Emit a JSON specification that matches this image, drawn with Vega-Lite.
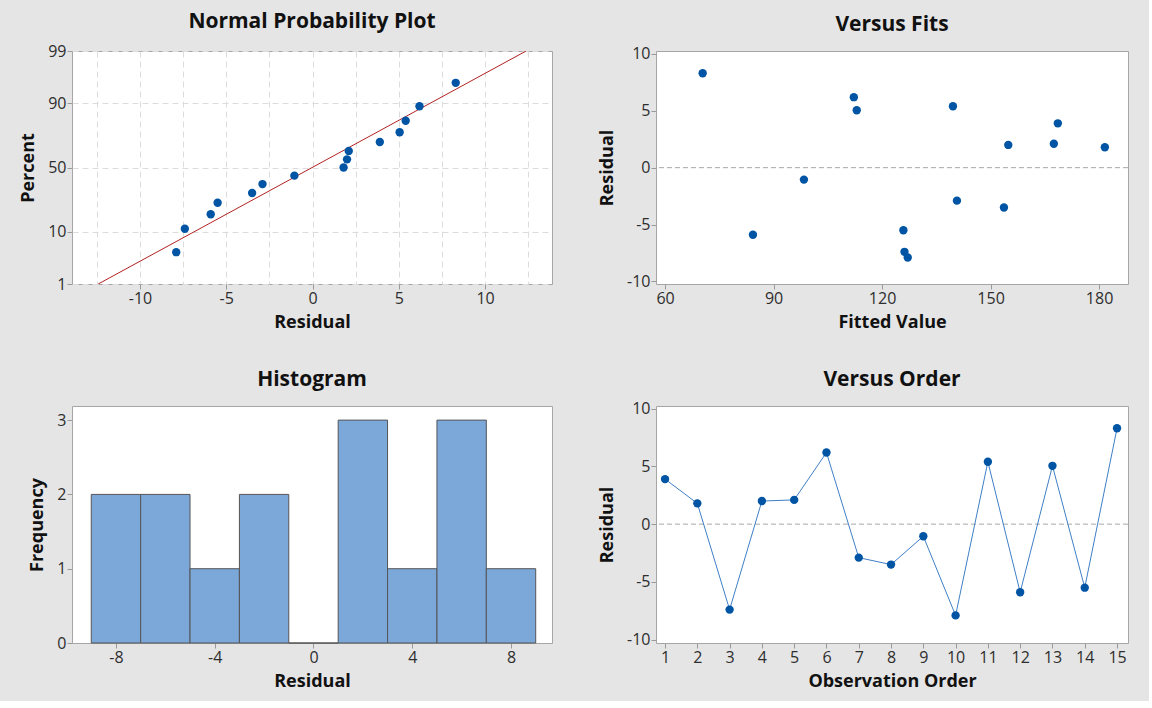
{
  "$schema": "https://vega.github.io/schema/vega-lite/v6.json",
  "background": "#e5e5e5",
  "padding": {"left": 19, "top": 10, "right": 20, "bottom": 10},
  "config": {
    "font": "Open Sans",
    "view": {"stroke": "#a6a6a6", "fill": "white", "strokeWidth": 1},
    "axis": {
      "labelFont": "Open Sans", "labelFontSize": 16, "labelColor": "#2e2e2e",
      "titleFont": "Open Sans", "titleFontSize": 18, "titleFontWeight": "bold", "titleColor": "#111111",
      "domain": false, "tickColor": "#9a9a9a", "tickSize": 5, "labelPadding": 1,
      "grid": false, "labelFlush": false, "labelOverlap": false
    },
    "axisX": {"titlePadding": 7, "labelPadding": 1},
    "axisY": {"titlePadding": 10},
    "title": {"font": "Open Sans", "fontSize": 21, "fontWeight": "bold", "color": "#111111", "anchor": "middle", "baseline": "alphabetic"}
  },
  "datasets": {
    "res": [
      {"obs": 1, "resid": 3.9, "fit": 168.6, "nscore": 0.509},
      {"obs": 2, "resid": 1.8, "fit": 181.6, "nscore": 0.0},
      {"obs": 3, "resid": -7.4, "fit": 126.2, "nscore": -1.224},
      {"obs": 4, "resid": 2.0, "fit": 154.9, "nscore": 0.163},
      {"obs": 5, "resid": 2.1, "fit": 167.5, "nscore": 0.331},
      {"obs": 6, "resid": 6.2, "fit": 112.2, "nscore": 1.224},
      {"obs": 7, "resid": -2.9, "fit": 140.7, "nscore": -0.331},
      {"obs": 8, "resid": -3.5, "fit": 153.7, "nscore": -0.509},
      {"obs": 9, "resid": -1.05, "fit": 98.4, "nscore": -0.163},
      {"obs": 10, "resid": -7.9, "fit": 127.1, "nscore": -1.691},
      {"obs": 11, "resid": 5.4, "fit": 139.6, "nscore": 0.933},
      {"obs": 12, "resid": -5.9, "fit": 84.3, "nscore": -0.933},
      {"obs": 13, "resid": 5.05, "fit": 113.0, "nscore": 0.705},
      {"obs": 14, "resid": -5.5, "fit": 125.9, "nscore": -0.705},
      {"obs": 15, "resid": 8.3, "fit": 70.4, "nscore": 1.691}
    ],
    "fitline": [
      {"resid": -12.42, "nscore": -2.3263},
      {"resid": 12.38, "nscore": 2.3263}
    ],
    "hist": [
      {"bin_start": -9, "bin_end": -7, "count": 2},
      {"bin_start": -7, "bin_end": -5, "count": 2},
      {"bin_start": -5, "bin_end": -3, "count": 1},
      {"bin_start": -3, "bin_end": -1, "count": 2},
      {"bin_start": -1, "bin_end": 1, "count": 0},
      {"bin_start": 1, "bin_end": 3, "count": 3},
      {"bin_start": 3, "bin_end": 5, "count": 1},
      {"bin_start": 5, "bin_end": 7, "count": 3},
      {"bin_start": 7, "bin_end": 9, "count": 1}
    ],
    "zero": [{"ref": 0}]
  },
  "columns": 2,
  "spacing": {"row": 122, "column": 104},
  "bounds": "flush",
  "align": "each",
  "concat": [
    {
      "width": 480, "height": 233,
      "title": {"text": "Normal Probability Plot", "offset": 11},
      "layer": [
        {
          "data": {"name": "fitline"},
          "mark": {"type": "line", "color": "#b22222", "strokeWidth": 1, "clip": true},
          "encoding": {
            "x": {"field": "resid", "type": "quantitative",
              "scale": {"domain": [-13.94, 13.88], "nice": false, "zero": false},
              "axis": {"title": "Residual", "values": [-12.5, -10, -7.5, -5, -2.5, 0, 2.5, 5, 7.5, 10, 12.5], "tickCount": 30,
                "labelExpr": "datum.value % 5 === 0 ? '' + datum.value : ''", "labelOverlap": false,
                "tickOpacity": {"condition": {"test": "datum.value % 5 !== 0", "value": 0}, "value": 1},
                "grid": true, "gridColor": "#dcdcdc", "gridDash": [6, 4], "gridWidth": 1}},
            "y": {"field": "nscore", "type": "quantitative",
              "scale": {"domain": [-2.3263, 2.3263], "nice": false, "zero": false},
              "axis": {"title": "Percent", "values": [-2.3263, -1.2816, 0, 1.2816, 2.3263], "labelOverlap": false, "tickCount": 30,
                "labelExpr": "datum.value < -2 ? '1' : datum.value < -1 ? '10' : datum.value < 1 ? '50' : datum.value < 2 ? '90' : '99'",
                "grid": true, "gridColor": "#dcdcdc", "gridDash": [6, 4], "gridWidth": 1}}
          }
        },
        {
          "data": {"name": "res"},
          "mark": {"type": "circle", "size": 70, "color": "#0054a4", "opacity": 1},
          "encoding": {
            "x": {"field": "resid", "type": "quantitative", "axis": {"labelOverlap": false}},
            "y": {"field": "nscore", "type": "quantitative", "axis": {"labelOverlap": false}}
          }
        }
      ]
    },
    {
      "width": 472, "height": 233,
      "title": {"text": "Versus Fits", "offset": 11},
      "layer": [
        {
          "data": {"name": "zero"},
          "mark": {"type": "rule", "color": "#a8a8a8", "strokeDash": [5, 3], "strokeWidth": 1},
          "encoding": {"y": {"field": "ref", "type": "quantitative", "axis": {"labelOverlap": false}}}
        },
        {
          "data": {"name": "res"},
          "mark": {"type": "circle", "size": 70, "color": "#0054a4", "opacity": 1},
          "encoding": {
            "x": {"field": "fit", "type": "quantitative",
              "scale": {"domain": [57.5, 188], "nice": false, "zero": false},
              "axis": {"title": "Fitted Value", "values": [60, 90, 120, 150, 180], "labelExpr": "'' + datum.value", "labelOverlap": false}},
            "y": {"field": "resid", "type": "quantitative",
              "scale": {"domain": [-10.23, 10.26], "nice": false, "zero": false},
              "axis": {"title": "Residual", "values": [-10, -5, 0, 5, 10], "labelExpr": "'' + datum.value", "labelOverlap": false}}
          }
        }
      ]
    },
    {
      "width": 480, "height": 237,
      "title": {"text": "Histogram", "offset": 16},
      "data": {"name": "hist"},
      "mark": {"type": "bar", "fill": "#7ba7d9", "stroke": "#555555", "strokeWidth": 1, "opacity": 1},
      "encoding": {
        "x": {"field": "bin_start", "type": "quantitative",
          "scale": {"domain": [-9.78, 9.66], "nice": false, "zero": false},
          "axis": {"title": "Residual", "values": [-8, -4, 0, 4, 8], "labelExpr": "'' + datum.value", "labelOverlap": false}},
        "x2": {"field": "bin_end"},
        "y": {"field": "count", "type": "quantitative",
          "scale": {"domain": [0, 3.19], "nice": false},
          "axis": {"title": "Frequency", "values": [0, 1, 2, 3], "labelExpr": "'' + datum.value", "labelOverlap": false}},
        "y2": {"datum": 0}
      }
    },
    {
      "width": 472, "height": 237,
      "title": {"text": "Versus Order", "offset": 11},
      "layer": [
        {
          "data": {"name": "zero"},
          "mark": {"type": "rule", "color": "#a8a8a8", "strokeDash": [5, 3], "strokeWidth": 1},
          "encoding": {"y": {"field": "ref", "type": "quantitative", "axis": {"labelOverlap": false}}}
        },
        {
          "data": {"name": "res"},
          "mark": {"type": "line", "color": "#3f7fc6", "strokeWidth": 1},
          "encoding": {
            "x": {"field": "obs", "type": "quantitative",
              "scale": {"domain": [0.72, 15.34], "nice": false, "zero": false},
              "axis": {"title": "Observation Order", "values": [1,2,3,4,5,6,7,8,9,10,11,12,13,14,15], "labelExpr": "'' + datum.value", "labelOverlap": false, "tickCount": 30}},
            "y": {"field": "resid", "type": "quantitative",
              "scale": {"domain": [-10.29, 10.23], "nice": false, "zero": false},
              "axis": {"title": "Residual", "values": [-10, -5, 0, 5, 10], "labelExpr": "'' + datum.value", "labelOverlap": false}}
          }
        },
        {
          "data": {"name": "res"},
          "mark": {"type": "circle", "size": 70, "color": "#0054a4", "opacity": 1},
          "encoding": {
            "x": {"field": "obs", "type": "quantitative", "axis": {"labelOverlap": false, "tickCount": 30}},
            "y": {"field": "resid", "type": "quantitative", "axis": {"labelOverlap": false}}
          }
        }
      ]
    }
  ]
}
